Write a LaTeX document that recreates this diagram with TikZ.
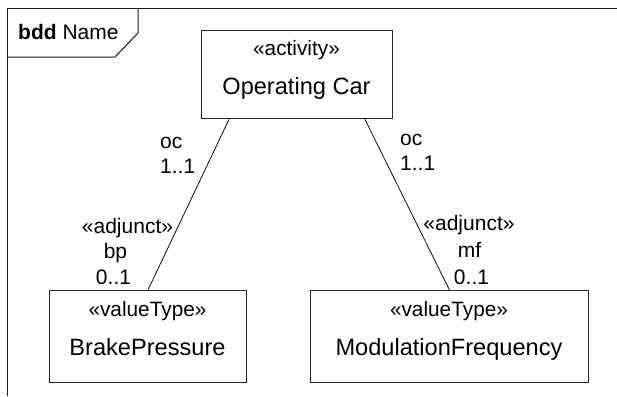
\documentclass[tikz,border=0pt]{standalone}
\usepackage{fontspec}
\setmainfont{Liberation Sans}
\usetikzlibrary{calc}
\begin{document}
\begin{tikzpicture}[x=1pt,y=-1pt,
  blk/.style={draw=black!85, line width=0.9pt, inner sep=0pt, anchor=north west},
  stereo/.style={font=\fontsize{20.8}{24}\selectfont, inner sep=0pt, anchor=base},
  nm/.style={font=\fontsize{23.6}{28}\selectfont, inner sep=0pt, anchor=base},
  lbl/.style={font=\fontsize{21}{25}\selectfont, inner sep=0pt, anchor=base},
  lbll/.style={lbl, anchor=base west},
  conn/.style={draw=black, line width=0.75pt},
  frm/.style={draw=black!90, line width=1pt}]
\useasboundingbox (0,0) rectangle (617,396);
% frame
\draw[frm] (617,9) -- (7,9) -- (7,396);
\draw[frm] (7,57) -- (115,57) -- (138,33) -- (138,9);
\node[lbll] (title) at (18,40) {\textbf{bdd} Name};
% blocks
\node[blk, minimum width=191pt, minimum height=88pt] (oc) at (201,30) {};
\node[stereo] (ocs) at (296.5,56) {«activity»};
\node[nm] (ocn) at (296.5,94) {Operating Car};
\node[blk, minimum width=197pt, minimum height=92pt] (bp) at (49,290) {};
\node[stereo] (bps) at (147.5,316) {«valueType»};
\node[nm] (bpn) at (147.5,355) {BrakePressure};
\node[blk, minimum width=278pt, minimum height=92pt] (mf) at (310,290) {};
\node[stereo] (mfs) at (449,316) {«valueType»};
\node[nm] (mfn) at (449,355) {ModulationFrequency};
% connectors
\draw[conn] ($(oc.south west)!0.147!(oc.south east)$) -- (bp.north);
\draw[conn] ($(oc.south west)!0.853!(oc.south east)$) -- (mf.north);
% end labels, left
\node[lbll] (l1) at (160,148) {oc};
\node[lbll] (l2) at (160,173) {1..1};
\node[lbl] (l3) at (127.5,233) {«adjunct»};
\node[lbl] (l4) at (115.5,258) {bp};
\node[lbl] (l5) at (113.5,284) {0..1};
% end labels, right
\node[lbll] (r1) at (400,145) {oc};
\node[lbll] (r2) at (400,170) {1..1};
\node[lbl] (r3) at (469,230) {«adjunct»};
\node[lbl] (r4) at (469.5,257) {mf};
\node[lbl] (r5) at (471.5,284) {0..1};
\end{tikzpicture}
\end{document}
